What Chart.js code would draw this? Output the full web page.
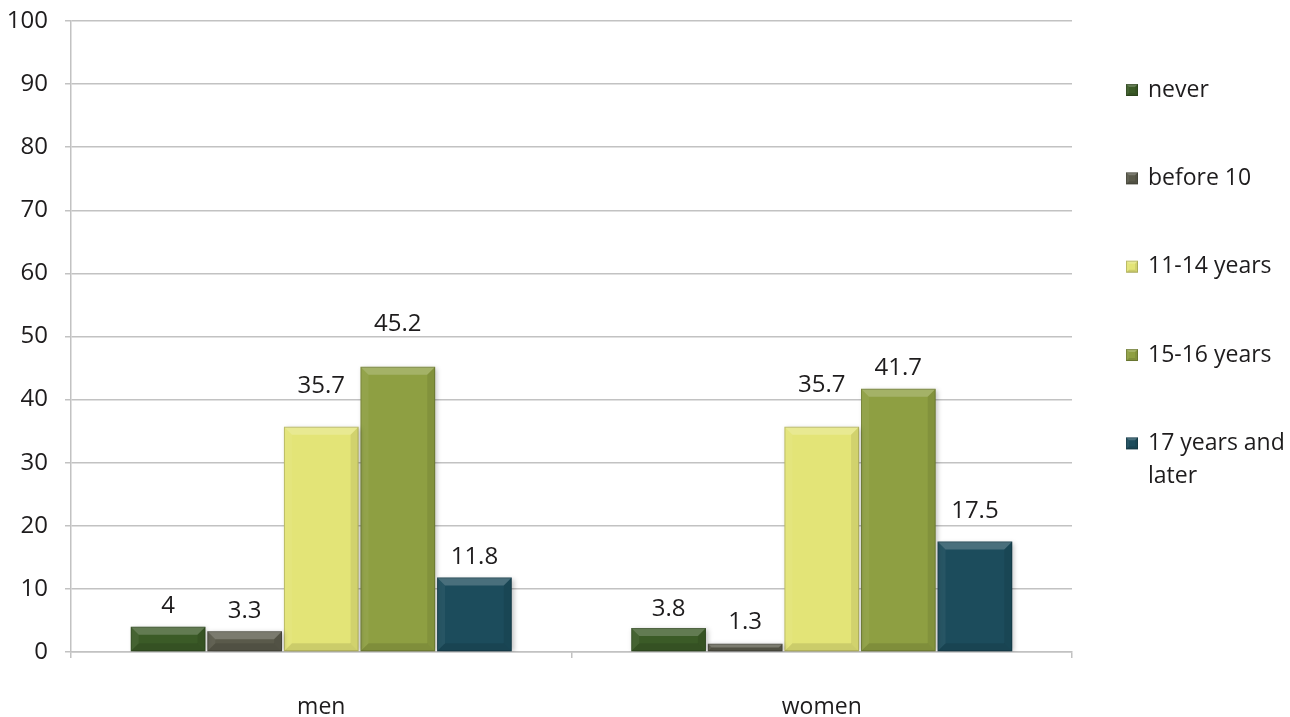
<!DOCTYPE html>
<html>
<head>
<meta charset="utf-8">
<title>Age of first experience</title>
<script src="https://cdn.jsdelivr.net/npm/chart.js@4.4.0/dist/chart.umd.min.js"></script>
<style>
    html, body { margin: 0; background: #fff; }
    #wrap { width: 1290px; height: 717px; }
</style>
</head>
<body>
<div id="wrap"><canvas id="ages" width="1290" height="717"></canvas></div>
<script>
// categories and series values
const groups = ["men", "women"];
const seriesNames = ["never", "before 10", "11-14 years", "15-16 years", "17 years and later"];
const never = [4, 3.8];
const before10 = [3.3, 1.3];
const years11to14 = [35.7, 35.7];
const years15to16 = [45.2, 41.7];
const years17plus = [11.8, 17.5];
const seriesValues = [never, before10, years11to14, years15to16, years17plus];

// styling
const seriesColors = ["#3b5b27", "#5a5a4b", "#e3e477", "#8e9f42", "#1c4c5c"];
// how far each value label sits above its bar (px)
const labelLift = [
    [21, 19],
    [20, 22],
    [41, 42],
    [43, 21],
    [20, 30],
];
const FONT = "'Open Sans', 'Noto Sans', sans-serif";
const TEXT = "#1e1c1d";
const GRID = "#c2c2c2";

function poly(ctx, pts) {
    ctx.beginPath();
    ctx.moveTo(pts[0][0], pts[0][1]);
    pts.slice(1).forEach((p) => ctx.lineTo(p[0], p[1]));
    ctx.closePath();
    ctx.fill();
}

function bevel(ctx, l, t, r, b, e) {
    ctx.fillStyle = "rgba(255,255,255,0.20)";
    poly(ctx, [[l, t], [r, t], [r - e, t + e], [l + e, t + e]]);
    ctx.fillStyle = "rgba(255,255,255,0.05)";
    poly(ctx, [[l, t], [l + e, t + e], [l + e, b - e], [l, b]]);
    ctx.fillStyle = "rgba(0,0,0,0.08)";
    poly(ctx, [[r, t], [r, b], [r - e, b - e], [r - e, t + e]]);
    ctx.fillStyle = "rgba(0,0,0,0.10)";
    poly(ctx, [[l, b], [r, b], [r - e, b - e], [l + e, b - e]]);
    ctx.strokeStyle = "rgba(0,0,0,0.18)";
    ctx.lineWidth = 1;
    ctx.strokeRect(l + 0.5, t + 0.5, r - l - 1, b - t - 1);
}

// soft shadow under the bars, then bevel facets and value labels on top
const bevelBars = {
    id: "bevelBars",
    beforeDatasetsDraw(chart) {
        const ctx = chart.ctx;
        ctx.save();
        ctx.shadowColor = "rgba(0,0,0,0.25)";
        ctx.shadowBlur = 5;
        ctx.shadowOffsetX = 2;
        ctx.shadowOffsetY = 1;
    },
    afterDatasetsDraw(chart) {
        const ctx = chart.ctx;
        ctx.restore();
        ctx.save();
        chart.data.datasets.forEach((ds, i) => {
            chart.getDatasetMeta(i).data.forEach((bar, j) => {
                const { x, y, base, width } = bar.getProps(["x", "y", "base", "width"], true);
                const l = x - width / 2;
                const r = x + width / 2;
                const e = Math.min(8, (base - y) / 2);
                bevel(ctx, l, y, r, base, e);

                ctx.fillStyle = TEXT;
                ctx.font = "24px " + FONT;
                ctx.textAlign = "center";
                ctx.textBaseline = "middle";
                ctx.fillText(String(ds.data[j]), x, y - labelLift[i][j]);
            });
        });
        ctx.restore();
    },
};

function wrapText(ctx, text, maxWidth) {
    const lines = [];
    let line = "";
    text.split(" ").forEach((w) => {
        const next = line ? line + " " + w : w;
        if (line && ctx.measureText(next).width > maxWidth) {
            lines.push(line);
            line = w;
        } else {
            line = next;
        }
    });
    lines.push(line);
    return lines;
}

// legend on the right, built from the datasets
const sideLegend = {
    id: "sideLegend",
    afterDraw(chart) {
        const ctx = chart.ctx;
        const area = chart.chartArea;
        const boxX = area.right + 54;
        const textX = area.right + 76;
        const step = area.height * 0.14;
        ctx.save();
        ctx.font = "23px " + FONT;
        ctx.textBaseline = "middle";
        ctx.textAlign = "left";
        chart.data.datasets.forEach((ds, i) => {
            const cy = area.top + 69 + i * step;
            ctx.fillStyle = ds.backgroundColor;
            ctx.fillRect(boxX, cy - 6, 12, 12);
            bevel(ctx, boxX, cy - 6, boxX + 12, cy + 6, 3);
            ctx.fillStyle = TEXT;
            wrapText(ctx, ds.label, 145).forEach((ln, k) => {
                ctx.fillText(ln, textX, cy + k * 33);
            });
        });
        ctx.restore();
    },
};

const chart = new Chart(document.getElementById("ages"), {
    type: "bar",
    data: {
        labels: groups,
        datasets: seriesNames.map((name, i) => ({
            label: name,
            data: seriesValues[i],
            backgroundColor: seriesColors[i],
            borderWidth: 0,
            categoryPercentage: 0.765,
            barPercentage: 0.975,
        })),
    },
    options: {
        responsive: false,
        animation: false,
        layout: {
            padding: { top: 21, right: 218, bottom: 0, left: 0 },
        },
        plugins: {
            legend: { display: false },
            tooltip: { enabled: false },
        },
        scales: {
            x: {
                grid: {
                    display: true,
                    drawOnChartArea: false,
                    offset: true,
                    tickLength: 6,
                    color: GRID,
                    lineWidth: 1.5,
                },
                border: { display: true, color: GRID, width: 1.5 },
                ticks: {
                    color: TEXT,
                    font: { family: FONT, size: 23 },
                    padding: 36,
                },
                afterFit: (scale) => {
                    scale.height = 65;
                },
            },
            y: {
                min: 0,
                max: 100,
                ticks: {
                    stepSize: 10,
                    color: TEXT,
                    font: { family: FONT, size: 24 },
                    padding: 17,
                },
                grid: {
                    color: GRID,
                    lineWidth: 1.5,
                    tickLength: 6,
                },
                border: { display: true, color: GRID, width: 1.5 },
                afterFit: (scale) => {
                    scale.width = 71;
                    scale.paddingTop = 0;
                    scale.paddingBottom = 0;
                },
            },
        },
    },
    plugins: [bevelBars, sideLegend],
});
</script>
</body>
</html>
